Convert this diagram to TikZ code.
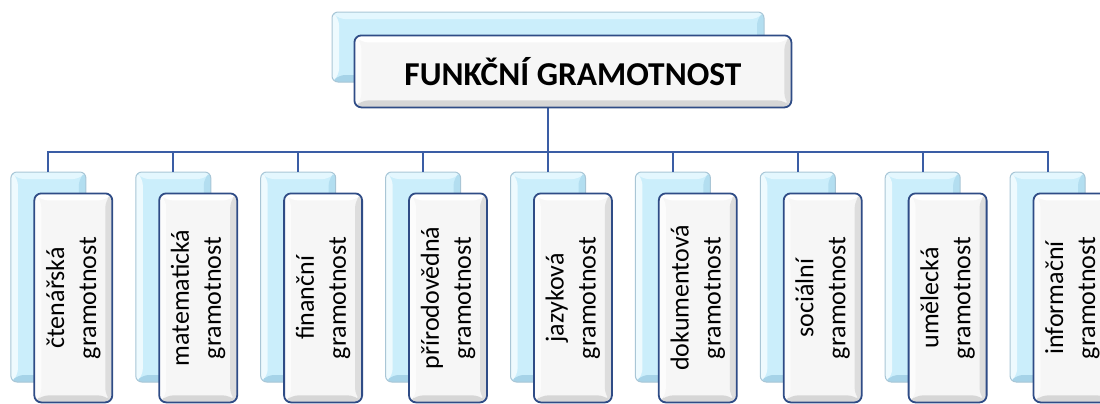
\documentclass[tikz,border=0pt]{standalone}
\usepackage{fontspec}
\setmainfont{Carlito}
\usepackage{tikz}
\usetikzlibrary{positioning,trees}
\definecolor{backfill}{HTML}{CBEEFB}
\definecolor{backtop}{HTML}{E4F7FE}
\definecolor{backleft}{HTML}{EEFAFE}
\definecolor{backright}{HTML}{B3DEF0}
\definecolor{backbottom}{HTML}{A6D3E8}
\definecolor{backedge}{HTML}{A9C6D6}
\definecolor{frontfill}{HTML}{F6F6F6}
\definecolor{fronttop}{HTML}{FFFFFF}
\definecolor{frontleft}{HTML}{FCFCFC}
\definecolor{frontright}{HTML}{DDDDDD}
\definecolor{frontbottom}{HTML}{D6D6D6}
\definecolor{frontedge}{HTML}{2F4C86}
\definecolor{linkblue}{HTML}{3A5DA5}
\tikzset
{
    bevel/.style n args = {5}{path picture = {
        \coordinate (nw) at (path picture bounding box.north west);
        \coordinate (ne) at (path picture bounding box.north east);
        \coordinate (sw) at (path picture bounding box.south west);
        \coordinate (se) at (path picture bounding box.south east);
        \fill[#2] (nw) -- (ne) -- ([shift={(-#1,-#1)}]ne) -- ([shift={(#1,-#1)}]nw) -- cycle;
        \fill[#3] (nw) -- (sw) -- ([shift={(#1,#1)}]sw) -- ([shift={(#1,-#1)}]nw) -- cycle;
        \fill[#4] (ne) -- (se) -- ([shift={(-#1,#1)}]se) -- ([shift={(-#1,-#1)}]ne) -- cycle;
        \fill[#5] (sw) -- (se) -- ([shift={(-#1,#1)}]se) -- ([shift={(#1,#1)}]sw) -- cycle;
    }},
    backbox/.style  = {rectangle, rounded corners=3pt, draw=backedge, line width=0.5pt, fill=backfill, inner sep=0pt,
                       minimum width=37.5pt, minimum height=105pt, bevel={3.5pt}{backtop}{backleft}{backright}{backbottom}},
    frontbox/.style = {rectangle, rounded corners=3.5pt, draw=frontedge, line width=0.9pt, fill=frontfill, inner sep=0pt,
                       minimum width=39pt, minimum height=104.5pt, anchor=north west, bevel={3.5pt}{fronttop}{frontleft}{frontright}{frontbottom}},
    toptext/.style  = {font=\fontsize{16.7}{19}\selectfont\bfseries},
    childtext/.style= {rotate=90, align=center, inner sep=0pt, font=\fontsize{13}{16}\selectfont}
}
\begin{document}
\begin{tikzpicture}[level distance=115pt, level 1/.style={sibling distance=62.45pt},
    edge from parent/.style={draw=linkblue, line width=1pt},
    edge from parent path={(\tikzparentnode.south) -- ++(0,-34.5pt) -| (\tikzchildnode.north)}]
    \useasboundingbox (0,0) rectangle (550pt,-201.5pt);
    % back row
    \node [backbox, minimum width=216pt, minimum height=35pt] (root) at (274pt,-23.5pt) {}
    child { node [backbox] (b1) {} }
    child { node [backbox] (b2) {} }
    child { node [backbox] (b3) {} }
    child { node [backbox] (b4) {} }
    child { node [backbox] (b5) {} }
    child { node [backbox] (b6) {} }
    child { node [backbox] (b7) {} }
    child { node [backbox] (b8) {} }
    child { node [backbox] (b9) {} }
;
    % front row
    \node [frontbox, minimum width=218.5pt, minimum height=36pt, toptext] (top) at ([xshift=11pt,yshift=-11.5pt]root.north west) {FUNKČNÍ GRAMOTNOST};
    \node [frontbox] (f1) at ([xshift=11.5pt,yshift=-10.5pt]b1.north west) {};
    \node [frontbox] (f2) at ([xshift=11.5pt,yshift=-10.5pt]b2.north west) {};
    \node [frontbox] (f3) at ([xshift=11.5pt,yshift=-10.5pt]b3.north west) {};
    \node [frontbox] (f4) at ([xshift=11.5pt,yshift=-10.5pt]b4.north west) {};
    \node [frontbox] (f5) at ([xshift=11.5pt,yshift=-10.5pt]b5.north west) {};
    \node [frontbox] (f6) at ([xshift=11.5pt,yshift=-10.5pt]b6.north west) {};
    \node [frontbox] (f7) at ([xshift=11.5pt,yshift=-10.5pt]b7.north west) {};
    \node [frontbox] (f8) at ([xshift=11.5pt,yshift=-10.5pt]b8.north west) {};
    \node [frontbox] (f9) at ([xshift=11.5pt,yshift=-10.5pt]b9.north west) {};
    % labels
    \node [childtext] (t1) at (f1) {čtenářská \\ gramotnost};
    \node [childtext] (t2) at (f2) {matematická \\ gramotnost};
    \node [childtext] (t3) at (f3) {finanční \\ gramotnost};
    \node [childtext] (t4) at (f4) {přírodovědná \\ gramotnost};
    \node [childtext] (t5) at (f5) {jazyková \\ gramotnost};
    \node [childtext] (t6) at (f6) {dokumentová \\ gramotnost};
    \node [childtext] (t7) at (f7) {sociální \\ gramotnost};
    \node [childtext] (t8) at (f8) {umělecká \\ gramotnost};
    \node [childtext] (t9) at (f9) {informační \\ gramotnost};
\end{tikzpicture}
\end{document}
